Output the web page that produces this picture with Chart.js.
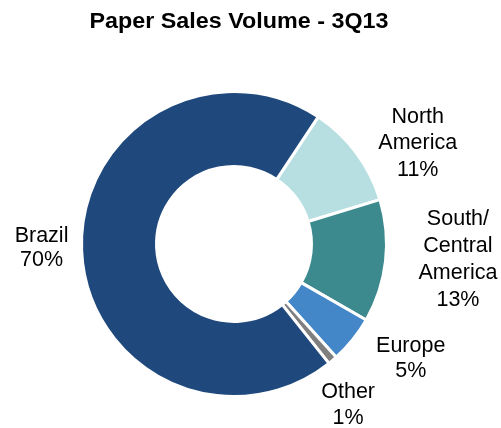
<!DOCTYPE html>
<html>
<head>
<meta charset="utf-8">
<script src="https://cdn.jsdelivr.net/npm/chart.js@4/dist/chart.umd.min.js"></script>
<style>
  html, body { margin: 0; padding: 0; background: #ffffff; }
  #wrap { width: 501px; height: 428px; position: relative; }
</style>
</head>
<body>
<div id="wrap"><canvas id="c" width="501" height="428"></canvas></div>
<script>
// Paper sales volume by region, 3Q13 (share of total, %)
const regions = ["North America", "South/Central America", "Europe", "Other", "Brazil"];
const labelLines = [["North", "America"], ["South/", "Central", "America"], ["Europe"], ["Other"], ["Brazil"]];
const shares = [11, 13, 5, 1, 70];
const colors = ["#b7dfe2", "#3d8a8e", "#4487c9", "#7f7f7f", "#1f497c"];
const chartTitle = "Paper Sales Volume - 3Q13";

// Label placement around each slice: angle nudge (deg), gap beyond outer edge (px), line height
const labelPlacement = [
  { dAngle: 8, gap: 57, lh: 26.5 },
  { dAngle: -2.5, gap: 72, lh: 27 },
  { dAngle: -6, gap: 58, lh: 24.5 },
  { dAngle: 5, gap: 45, lh: 26 },
  { dAngle: 1.3, gap: 40, lh: 24 }
];

const FONT = '"Liberation Sans", Arial, sans-serif';

const outsideLabels = {
  id: 'outsideLabels',
  afterDraw(chart) {
    const ctx = chart.ctx;
    const meta = chart.getDatasetMeta(0);
    ctx.save();
    ctx.fillStyle = '#000000';
    ctx.textAlign = 'center';
    ctx.textBaseline = 'middle';

    // title, set slightly wide
    ctx.save();
    ctx.font = 'bold 22px ' + FONT;
    ctx.translate(239, 22);
    ctx.scale(1.06, 1);
    ctx.fillText(chartTitle, 0, 0);
    ctx.restore();

    ctx.font = '21.5px ' + FONT;
    meta.data.forEach((arc, i) => {
      const p = arc.getProps(['x', 'y', 'startAngle', 'endAngle', 'outerRadius'], true);
      const place = labelPlacement[i];
      const mid = (p.startAngle + p.endAngle) / 2 + place.dAngle * Math.PI / 180;
      const r = p.outerRadius + place.gap;
      const cx = p.x + Math.cos(mid) * r;
      const cy = p.y + Math.sin(mid) * r;
      const lines = labelLines[i].concat([shares[i] + '%']);
      const top = cy - (lines.length - 1) * place.lh / 2;
      lines.forEach((t, k) => ctx.fillText(t, cx, top + k * place.lh));
    });
    ctx.restore();
  }
};

new Chart(document.getElementById('c'), {
  type: 'doughnut',
  data: {
    labels: regions,
    datasets: [{
      data: shares,
      backgroundColor: colors,
      borderColor: '#ffffff',
      borderWidth: 3,
      hoverOffset: 0,
      hoverBorderWidth: 3
    }]
  },
  options: {
    responsive: false,
    animation: false,
    rotation: 33.5,
    cutout: '50.8%',
    layout: { padding: { left: 80, top: 90, right: 113, bottom: 30 } },
    plugins: {
      legend: { display: false },
      title: { display: false },
      tooltip: { enabled: false }
    }
  },
  plugins: [outsideLabels]
});
</script>
</body>
</html>
